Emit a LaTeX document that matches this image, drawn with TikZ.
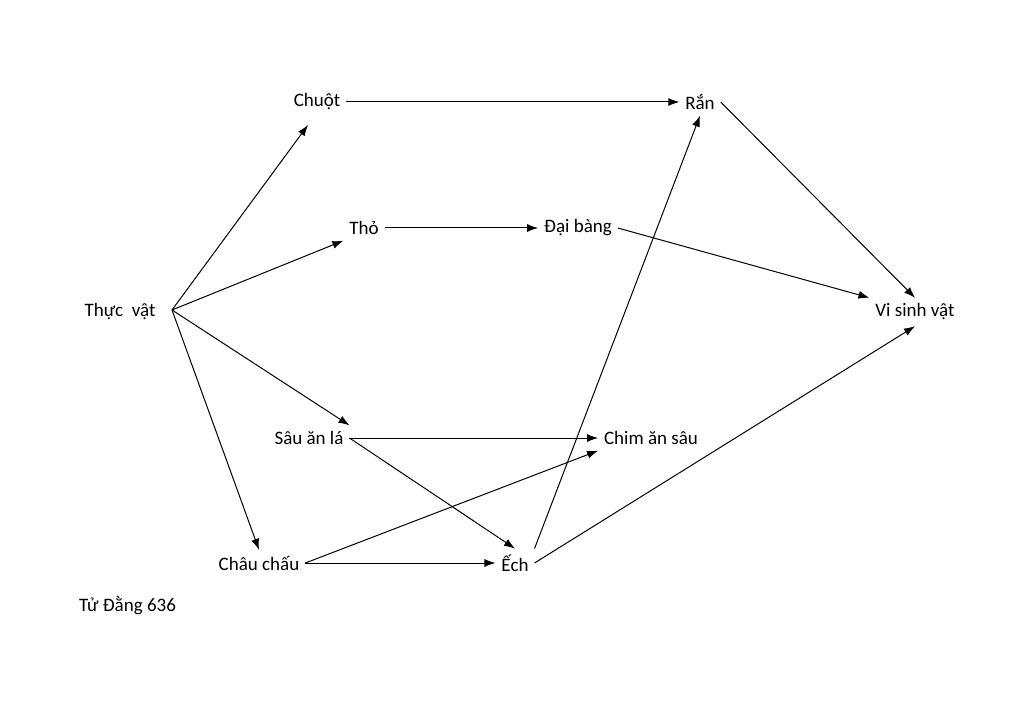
\documentclass[tikz,border=0pt]{standalone}
\usepackage{fontspec}
\setmainfont{Carlito}
\usetikzlibrary{arrows.meta}
\begin{document}
\begin{tikzpicture}[x=1pt,y=-1pt,
  lbl/.style={font=\fontsize{19}{22}\selectfont,inner sep=2pt,outer sep=4pt},
  arr/.style={-{Latex[length=11pt,width=8pt]},line width=1pt}]
\useasboundingbox (0,0) rectangle (1024,727);
\node[lbl] (tv) at (120,312) {Thực\ \ vật};
\node[lbl] (chuot) at (317,102) {Chuột};
\node[lbl] (ran) at (700,102) {Rắn};
\node[lbl] (tho) at (364,228) {Thỏ};
\node[lbl] (db) at (578,228) {Đại bàng};
\node[lbl] (vsv) at (915,312) {Vi sinh vật};
\node[lbl] (sau) at (309,438) {Sâu ăn lá};
\node[lbl] (chim) at (651,438) {Chim ăn sâu};
\node[lbl] (cc) at (259,563) {Châu chấu};
\node[lbl] (ech) at (515,563) {Ếch};
\node[lbl,anchor=west] (td) at (73,606) {Tử Đằng 636};
\coordinate (tvo) at (172,310);
\draw[arr] (tvo) -- (308,125) coordinate (a1);
\draw[arr] (tvo) -- (tho.south west);
\draw[arr] (tvo) -- (sau.north east);
\draw[arr] (tvo) -- (cc.north);
\draw[arr] (chuot.east) -- (ran.west);
\draw[arr] (ran.east) -- (vsv.north);
\draw[arr] (tho.east) -- (db.west);
\draw[arr] (db.east) -- (vsv.north west);
\draw[arr] (sau.east) -- (chim.west);
\draw[arr] (sau.east) -- (ech.north);
\draw[arr] (cc.east) -- (chim.south west);
\draw[arr] (cc.east) -- (ech.west);
\draw[arr] (ech.north east) -- (ran.south);
\draw[arr] (ech.east) -- (vsv.south);
\end{tikzpicture}
\end{document}
